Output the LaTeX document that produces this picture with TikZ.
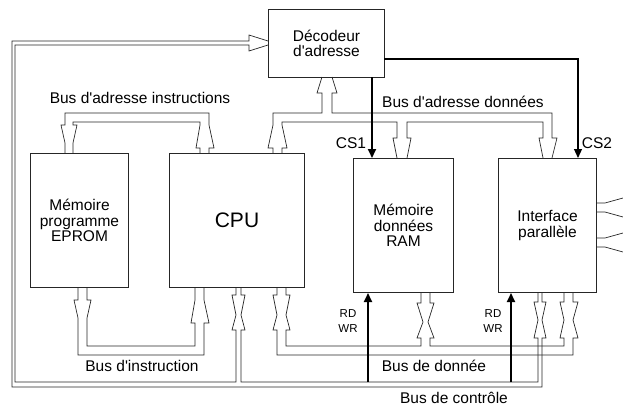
\documentclass[tikz,border=0pt]{standalone}
\usepackage{fontspec}
\setmainfont{Liberation Sans}[Ligatures=TeXOff]
\usetikzlibrary{arrows.meta}
\begin{document}
\begin{tikzpicture}[x=1pt,y=-1pt,
  bus/.style={line width=0.7pt, draw=black!85, line join=miter},
  box/.style={draw=black!85, line width=1pt, inner sep=0pt, align=center, font=\fontsize{15.5}{15.5}\selectfont},
  lbl/.style={font=\fontsize{15.5}{16}\selectfont, inner sep=0pt},
  small/.style={font=\fontsize{11.5}{15.5}\selectfont, inner sep=0pt, align=center},
  sig/.style={line width=1.8pt, -{Triangle[length=9pt,width=8pt]}},
  sigthin/.style={line width=1.2pt, -{Triangle[length=9pt,width=8pt]}}]
\useasboundingbox (0,0) rectangle (623,407);
% boxes
\node[box, anchor=north west, minimum width=116pt, minimum height=68pt] (dec) at (268,9) {Décodeur\\d'adresse};
\node[box, anchor=north west, minimum width=98pt, minimum height=134pt] (eprom) at (30,153) {Mémoire\\programme\\EPROM};
\node[box, anchor=north west, minimum width=135pt, minimum height=134pt, font=\fontsize{21}{21}\selectfont] (cpu) at (169,153) {CPU};
\node[box, anchor=north west, minimum width=100pt, minimum height=134pt] (ram) at (353,158) {Mémoire\\données\\RAM};
\node[box, anchor=north west, minimum width=98pt, minimum height=134pt] (intf) at (498,158) {Interface\\parallèle};
% bus d'adresse instructions
\draw[bus] (65,153)--(65,143)--(61,125)--(65,125)--(65,113)--(209,113)--(209,125)--(214,148)--(209,148)--(209,153);
\draw[bus] (73,153)--(73,143)--(77,125)--(73,125)--(73,122)--(200,122)--(200,125)--(196,148)--(200,148)--(200,153);
% bus d'adresse donnees
\draw[bus] (273,153)--(273,148)--(268,148)--(273,125)--(273,113)--(322,113)--(322,93)--(317,93)--(322,77);
\draw[bus] (332,77)--(337,93)--(332,93)--(332,113)--(552,113)--(552,138)--(557,138)--(552,158);
\draw[bus] (282,153)--(282,148)--(287,148)--(282,125)--(282,122)--(397,122)--(397,138)--(393,138)--(397,158);
\draw[bus] (407,158)--(411,138)--(407,138)--(407,122)--(543,122)--(543,138)--(539,138)--(543,158);
% loop to decoder + bus de controle
\draw[bus] (268,41)--(249,35)--(249,41)--(12,41)--(12,387)--(542,387)--(542,338)--(546,338)--(542,320)--(546,302)--(542,302)--(542,292);
\draw[bus] (268,45)--(249,51)--(249,45)--(15,45)--(15,382)--(236,382)--(236,330)--(232,330)--(236,315)--(232,295)--(236,295)--(236,287);
\draw[bus] (241,287)--(241,295)--(245,295)--(241,315)--(245,330)--(241,330)--(241,382)--(538,382)--(538,338)--(534,338)--(538,320)--(534,302)--(538,302)--(538,292);
% bus d'instruction
\draw[bus] (78,287)--(78,300)--(74,300)--(78,318)--(78,355)--(204,355)--(204,323)--(209,323)--(204,300)--(204,287);
\draw[bus] (87,287)--(87,300)--(91,300)--(87,318)--(87,346)--(195,346)--(195,323)--(191,323)--(195,300)--(195,287);
% bus de donnee
\draw[bus] (277,287)--(277,295)--(273,295)--(277,315)--(273,330)--(277,330)--(277,355)--(573,355)--(573,338)--(578,338)--(573,320)--(578,302)--(573,302)--(573,292);
\draw[bus] (286,287)--(286,295)--(290,295)--(286,315)--(290,330)--(286,330)--(286,346)--(421,346)--(421,338)--(417,338)--(423,322)--(417,303)--(421,303)--(421,292);
\draw[bus] (430,292)--(430,303)--(434,303)--(428,322)--(434,338)--(430,338)--(430,346)--(564,346)--(564,338)--(560,338)--(564,320)--(560,302)--(564,302)--(564,292);
% interface outputs
\draw[bus] (596,203)--(605,203)--(623,198);
\draw[bus] (596,212)--(605,212)--(623,217);
\draw[bus] (596,238)--(605,238)--(623,233);
\draw[bus] (596,247)--(605,247)--(623,252);
% select and control signals
\coordinate (cs1a) at (372,77);
\coordinate (cs2a) at (384,59);
\coordinate (cs2b) at (578,59);
\coordinate (rd1) at (368,382);
\coordinate (rd2) at (511,382);
\draw[sig] (cs1a) -- (cs1a |- ram.north);
\draw[sigthin] (cs2a) -- (cs2b) -- (cs2b |- intf.north);
\draw[sig] (rd1) -- (rd1 |- ram.south);
\draw[sig] (rd2) -- (rd2 |- intf.south);
% labels
\node[lbl] (l1) at (140,98) {Bus d'adresse instructions};
\node[lbl] (l2) at (463,102) {Bus d'adresse données};
\node[lbl] (l3) at (351,143) {CS1};
\node[lbl] (l4) at (597,143) {CS2};
\node[lbl] (l5) at (142,366) {Bus d'instruction};
\node[lbl] (l6) at (434,366) {Bus de donnée};
\node[lbl] (l7) at (454,398) {Bus de contrôle};
\node[small] (r1) at (348,321) {RD\\WR};
\node[small] (r2) at (493,321) {RD\\WR};
\end{tikzpicture}
\end{document}
